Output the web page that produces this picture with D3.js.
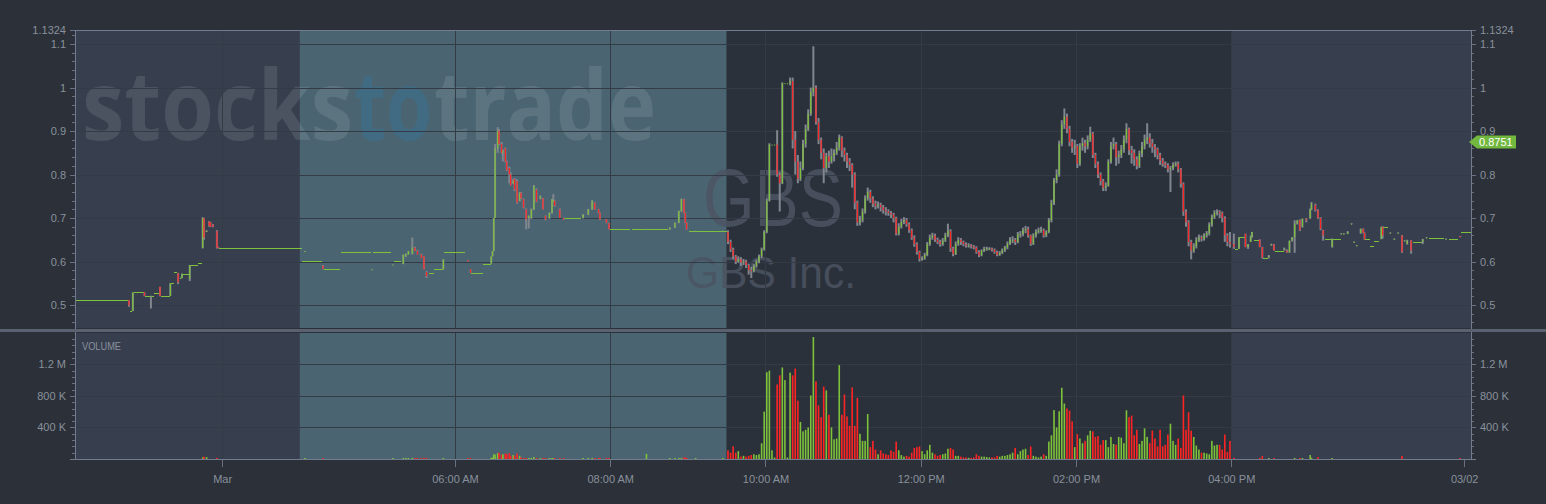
<!DOCTYPE html>
<html><head><meta charset="utf-8">
<script src="https://cdn.jsdelivr.net/npm/d3@7"></script>
<style>
html,body{margin:0;padding:0;background:#2b3039;}
svg{display:block;}
</style></head><body>
<svg id="chart" width="1546" height="504"></svg>
<script>
// ---------- DATA (time = minutes from 04:00 AM on the session timeline) ----------
const tickMinutes = [-60, 120, 240, 360, 480, 600, 720, 900];
const tickLabels = ["Mar", "06:00 AM", "08:00 AM", "10:00 AM", "12:00 PM", "02:00 PM", "04:00 PM", "03/02"];
const priceTicks = [0.5, 0.6, 0.7, 0.8, 0.9, 1.0, 1.1, 1.1324];
const priceTickLabels = ["0.5", "0.6", "0.7", "0.8", "0.9", "1", "1.1", "1.1324"];
const volumeTicks = [400000, 800000, 1200000];
const volumeTickLabels = ["400 K", "800 K", "1.2 M"];
const sessionStart = [-174, 0, 330, 720];
const sessionEnd = [0, 330, 720, 906];
const sessionKind = ["ext", "pre", "reg", "ext"];
const symbol = "GBS";
const companyName = "GBS Inc.";
const watermarkParts = ["stocks", "to", "trade"];
const lastPriceTag = 0.8751;

// previous-day trades
const prevTime = [-132,-129,-120,-115,-108,-100,-94,-92,-91,-85,-75,-74,-72,-70,-69,-67,-64,-63];
const prevOpen = [.511,.486,.529,.521,.542,.521,.573,.562,.562,.560,.631,.700,.670,.692,.690,.685,.670,.633];
const prevHigh = [.511,.529,.529,.521,.542,.550,.574,.563,.572,.592,.702,.700,.672,.693,.691,.686,.672,.634];
const prevLow = [.496,.486,.520,.492,.520,.521,.548,.561,.562,.555,.630,.650,.668,.680,.679,.679,.630,.630];
const prevClose = [.499,.529,.521,.521,.521,.550,.552,.562,.572,.592,.700,.655,.670,.682,.680,.680,.632,.631];
const prevVolumeK = [2,2,2,2,2,2,2,2,2,2,22,30,25,3,3,3,15,2];

// pre-market trades
const preTime = [4,18,56,72,80,82,84,87,89,91,94,96,98,111,130,132,148,149,150,151,153,154,156,157,159,160,162,163,165,166,168,170,171,173,175,177,179,181,183,186,188,190,193,195,196,197,201,204,219,223,226,228,231,232,237,239,268,286,290,293,295,297,298,299,306,327];
const preOpen = [.624,.590,.582,.593,.594,.612,.616,.618,.632,.624,.616,.612,.576,.582,.603,.582,.595,.612,.624,.700,.860,.900,.870,.850,.860,.830,.815,.800,.780,.790,.785,.740,.758,.743,.720,.700,.700,.720,.765,.745,.745,.705,.700,.712,.740,.740,.720,.700,.700,.708,.720,.735,.720,.712,.697,.688,.674,.674,.678,.689,.716,.743,.712,.689,.670,.670];
const preHigh = [.624,.592,.582,.593,.616,.618,.624,.655,.634,.626,.618,.612,.578,.605,.603,.582,.612,.624,.700,.870,.909,.905,.875,.858,.862,.832,.818,.805,.790,.792,.789,.760,.760,.745,.722,.706,.722,.776,.768,.752,.746,.706,.713,.744,.755,.741,.722,.701,.709,.721,.742,.736,.721,.713,.698,.689,.675,.679,.690,.717,.745,.744,.713,.690,.671,.671];
const preLow = [.623,.582,.581,.592,.594,.610,.616,.616,.624,.616,.608,.582,.562,.582,.600,.574,.595,.612,.624,.700,.850,.868,.848,.830,.828,.808,.780,.775,.778,.762,.733,.738,.744,.722,.674,.676,.698,.718,.736,.743,.720,.695,.698,.710,.738,.726,.700,.696,.699,.707,.719,.719,.711,.696,.688,.674,.673,.673,.677,.688,.714,.711,.688,.673,.669,.669];
const preClose = [.624,.583,.582,.593,.616,.618,.624,.632,.624,.616,.608,.582,.566,.605,.600,.574,.612,.624,.700,.860,.900,.870,.850,.855,.830,.810,.800,.775,.785,.765,.735,.758,.745,.724,.697,.705,.720,.774,.738,.750,.720,.697,.712,.743,.740,.728,.700,.697,.708,.720,.739,.720,.712,.697,.689,.674,.675,.678,.689,.716,.743,.712,.689,.674,.670,.670];
const preVolumeK = [8,13,6,8,13,12,12,15,12,12,12,14,13,13,12,13,15,18,60,55,75,80,55,60,70,60,75,40,50,40,70,40,20,13,13,12,13,25,13,12,13,12,12,13,12,12,13,12,13,13,13,12,12,13,12,12,65,12,13,13,14,20,16,13,12,12];

// regular session, 2-minute candles from 09:30
const regStart = 330, regStep = 2;
const regOpen = [.668,.645,.628,.612,.600,.605,.598,.600,.592,.580,
.578,.590,.600,.612,.628,.668,.740,.869,.869,.869,
.800,.780,1.010,1.010,1.010,1.015,.880,.830,.790,.815,
.870,.905,.940,.990,1.000,.920,.880,.850,.815,.842,
.830,.842,.850,.862,.885,.855,.845,.830,.822,.800,
.735,.690,.695,.715,.745,.760,.745,.733,.728,.730,
.725,.718,.715,.712,.708,.700,.664,.680,.691,.695,
.686,.672,.655,.640,.622,.606,.607,.615,.640,.655,
.660,.650,.645,.640,.648,.660,.670,.630,.617,.640,
.650,.645,.640,.637,.637,.635,.632,.622,.614,.625,
.629,.630,.630,.627,.622,.615,.620,.626,.632,.641,
.650,.650,.645,.663,.663,.672,.675,.660,.641,.660,
.668,.672,.672,.660,.668,.695,.735,.787,.800,.871,
.915,.933,.905,.875,.862,.865,.825,.865,.872,.865,
.880,.895,.845,.825,.800,.785,.770,.775,.830,.865,
.870,.840,.845,.858,.880,.905,.856,.850,.835,.820,
.848,.865,.880,.885,.872,.864,.858,.845,.832,.825,
.822,.812,.815,.822,.825,.812,.779,.715,.690,.645,
.625,.635,.650,.655,.652,.660,.665,.685,.702,.712,
.714,.712,.700,.660,.645];
const regHigh = [.672,.650,.632,.615,.612,.610,.606,.604,.595,.588,
.594,.604,.616,.632,.672,.745,.872,.869,.869,.902,
.805,1.012,1.010,1.010,1.023,1.023,.900,.845,.830,.880,
.915,.950,1.000,1.095,1.005,.930,.885,.860,.850,.855,
.860,.858,.875,.892,.888,.862,.850,.838,.826,.805,
.740,.705,.722,.752,.770,.765,.750,.740,.738,.735,
.730,.725,.720,.716,.712,.703,.688,.698,.702,.700,
.690,.676,.660,.644,.625,.612,.620,.645,.662,.666,
.664,.655,.650,.654,.666,.687,.674,.634,.646,.656,
.654,.648,.644,.642,.640,.638,.635,.626,.628,.634,
.634,.633,.632,.630,.625,.624,.630,.636,.646,.656,
.658,.654,.668,.670,.678,.682,.680,.662,.665,.674,
.678,.680,.676,.672,.700,.742,.792,.812,.878,.925,
.952,.940,.912,.882,.880,.870,.872,.885,.880,.890,
.910,.898,.850,.830,.805,.790,.782,.835,.875,.885,
.875,.855,.868,.890,.918,.908,.866,.858,.842,.855,
.875,.892,.918,.895,.882,.870,.862,.850,.838,.830,
.826,.820,.828,.830,.830,.815,.782,.720,.695,.650,
.642,.656,.662,.660,.665,.670,.690,.708,.718,.720,
.718,.715,.704,.665,.668];
const regLow = [.640,.622,.605,.594,.597,.590,.592,.585,.570,.562,
.575,.586,.596,.608,.625,.665,.738,.869,.869,.795,
.715,.778,1.010,1.010,1.005,.860,.800,.780,.785,.810,
.862,.900,.935,.980,.915,.870,.835,.780,.805,.815,
.825,.830,.845,.855,.840,.830,.815,.808,.770,.720,
.682,.683,.690,.710,.740,.735,.725,.720,.722,.715,
.710,.706,.705,.700,.690,.660,.660,.676,.686,.680,
.666,.650,.634,.616,.600,.602,.604,.612,.636,.650,
.645,.640,.634,.636,.645,.656,.622,.612,.615,.636,
.638,.635,.632,.632,.630,.628,.618,.610,.612,.622,
.625,.626,.623,.618,.612,.613,.617,.622,.628,.638,
.642,.638,.642,.655,.658,.665,.655,.636,.638,.655,
.664,.666,.655,.656,.665,.690,.730,.780,.795,.865,
.905,.895,.865,.850,.845,.815,.820,.855,.850,.858,
.875,.838,.815,.792,.775,.762,.762,.772,.825,.858,
.820,.825,.838,.850,.872,.845,.825,.820,.812,.815,
.840,.858,.870,.862,.850,.840,.835,.822,.818,.815,
.805,.760,.810,.818,.805,.770,.705,.680,.635,.605,
.620,.630,.645,.646,.648,.655,.660,.680,.698,.706,
.700,.690,.645,.635,.632];
const regClose = [.645,.628,.612,.600,.605,.598,.600,.592,.580,.578,
.590,.600,.612,.628,.668,.740,.869,.869,.869,.800,
.780,1.010,1.010,1.010,1.015,.880,.830,.790,.815,.870,
.905,.940,.990,1.000,.920,.880,.850,.815,.842,.830,
.842,.850,.862,.885,.855,.845,.830,.822,.800,.735,
.690,.695,.715,.745,.760,.745,.733,.728,.730,.725,
.718,.715,.712,.708,.700,.664,.680,.691,.695,.686,
.672,.655,.640,.622,.606,.607,.615,.640,.655,.660,
.650,.645,.640,.648,.660,.670,.630,.617,.640,.650,
.645,.640,.637,.637,.635,.632,.622,.614,.625,.629,
.630,.630,.627,.622,.615,.620,.626,.632,.641,.650,
.650,.645,.663,.663,.672,.675,.660,.641,.660,.668,
.672,.672,.660,.668,.695,.735,.787,.800,.871,.915,
.933,.905,.875,.862,.865,.825,.865,.872,.865,.880,
.895,.845,.825,.800,.785,.770,.775,.830,.865,.870,
.840,.845,.858,.880,.905,.856,.850,.835,.820,.848,
.865,.880,.885,.872,.864,.858,.845,.832,.825,.822,
.812,.815,.822,.825,.812,.779,.715,.690,.645,.625,
.635,.650,.655,.652,.660,.665,.685,.702,.712,.714,
.712,.700,.660,.645,.640];
const regVolumeK = [110,80,160,80,100,30,40,30,40,50,
60,50,60,200,600,1100,1120,110,20,945,
1060,1160,1000,20,1095,1060,1146,740,470,350,
370,400,805,1546,984,680,530,916,870,560,
400,250,260,1190,560,818,540,420,907,420,
775,320,230,230,570,150,230,120,60,110,
70,60,50,110,90,220,110,50,30,40,
30,80,140,150,160,100,60,110,180,80,
60,40,50,60,70,130,140,120,40,40,
30,20,20,15,15,20,60,40,30,30,
25,20,20,20,40,30,40,40,50,60,
80,140,60,100,120,130,50,160,40,30,
20,30,60,40,220,300,620,400,605,903,
703,640,613,477,150,315,260,200,230,300,
358,350,280,290,180,240,240,150,280,190,
180,280,270,200,618,530,550,300,370,190,
230,388,280,200,360,260,160,370,160,180,
310,447,230,180,260,140,805,370,592,360,
280,170,120,80,80,70,60,230,170,180,
180,120,310,90,230];

// after-hours trades
const postTime = [722,726,731,733,735,736,742,744,749,751,753,761,763,765,767,769,771,773,775,778,781,782,785,787,789,791,798,805,807,810,813,815,817,820,822,823,836,837,843,846,849,852,854,856,859,868,871,886,897];
const postOpen = [.640,.629,.664,.633,.645,.656,.650,.633,.610,.639,.639,.629,.625,.621,.648,.656,.687,.695,.680,.698,.700,.720,.730,.718,.700,.672,.634,.664,.664,.664,.687,.645,.637,.665,.675,.666,.652,.679,.666,.652,.666,.660,.648,.640,.648,.645,.655,.652,.658];
const postHigh = [.664,.656,.664,.640,.660,.668,.651,.634,.615,.641,.640,.632,.628,.648,.656,.695,.695,.697,.699,.700,.722,.737,.733,.720,.702,.673,.653,.665,.665,.670,.688,.646,.638,.676,.676,.667,.680,.681,.667,.653,.667,.661,.649,.650,.649,.652,.656,.653,.659];
const postLow = [.629,.629,.633,.629,.645,.655,.633,.607,.607,.637,.625,.625,.620,.620,.646,.620,.685,.670,.678,.690,.698,.718,.715,.698,.672,.648,.632,.663,.663,.663,.686,.644,.636,.664,.665,.650,.651,.653,.665,.651,.665,.620,.647,.639,.618,.640,.654,.651,.656];
const postClose = [.633,.656,.633,.640,.656,.668,.633,.610,.613,.639,.625,.629,.621,.648,.656,.687,.695,.672,.698,.695,.720,.733,.718,.700,.675,.660,.652,.664,.664,.668,.687,.645,.637,.675,.666,.651,.679,.660,.666,.652,.666,.622,.648,.648,.625,.651,.655,.652,.657];
const postVolumeK = [15,2,2,2,2,2,12,38,12,2,12,2,2,2,2,13,2,12,12,2,50,15,2,25,2,2,12,2,2,2,2,2,2,2,2,2,2,2,2,2,2,38,2,2,2,2,2,2,12];

// unchanged-price stretches (no trades), drawn as flat lines
const flatStart = [-174,-131,-128,-119,-112,-107,-99,-97,-90,-84,-78,-62,2,19,32,57,73,100,104,112,133,142,205,240,257,301,723,727,738,745,754,793,799,824,828,831,838,861,873,889,898];
const flatEnd = [-133,-130,-121,-113,-109,-101,-98,-95,-86,-79,-76,1,17,31,55,70,78,103,110,127,141,147,217,255,284,330,725,730,741,748,760,797,804,827,830,834,841,867,884,895,905];
const flatPrice = [.511,.486,.529,.521,.528,.521,.550,.575,.572,.592,.596,.631,.602,.582,.622,.622,.602,.574,.582,.622,.574,.595,.700,.674,.674,.670,.629,.656,.650,.607,.625,.652,.652,.651,.635,.647,.679,.645,.655,.652,.667];

// ---------- STYLE / LAYOUT ----------
const FONT = '"Liberation Sans", Arial, sans-serif';
const C = {page:'#2b3039', ext:'#373f4f', pre:'#4a6571', reg:'#2b313b', grid:'#333b47',
  axis:'#687184', border:'#737c8f', sep:'#5a6272', text:'#8a909b', up:'#7dc23a', down:'#ff2424', wick:'#80858e', tag:'#72b83f'};
const P = {left:75, right:1471, priceTop:30, priceBottom:328, volTop:333, volBottom:459};

const svg = d3.select('#chart');
svg.append('rect').attr('width',1546).attr('height',504).attr('fill',C.page);

const x = d3.scaleLinear().domain([-173.7, 905.3]).range([P.left, P.right]);
const y = d3.scaleLinear().domain([0.4471, 1.1324]).range([P.priceBottom, P.priceTop]);
const yv = d3.scaleLinear().domain([0, 1597000]).range([P.volBottom, P.volTop]);

// assemble candles
const candles = [];
function addSet(times, o, h, l, c, vK) {
  times.forEach((t, i) => candles.push({t, o:o[i], h:h[i], l:l[i], c:c[i], v:vK[i]*1000}));
}
addSet(prevTime, prevOpen, prevHigh, prevLow, prevClose, prevVolumeK);
addSet(preTime, preOpen, preHigh, preLow, preClose, preVolumeK);
addSet(regClose.map((_, i) => regStart + i*regStep + regStep/2), regOpen, regHigh, regLow, regClose, regVolumeK);
addSet(postTime, postOpen, postHigh, postLow, postClose, postVolumeK);
const flats = flatStart.map((s, i) => ({s, e:flatEnd[i], p:flatPrice[i]}));

const defs = svg.append('defs');
defs.append('clipPath').attr('id','clipPrice').append('rect')
  .attr('x',P.left).attr('y',P.priceTop).attr('width',P.right-P.left).attr('height',P.priceBottom-P.priceTop);
defs.append('clipPath').attr('id','clipVol').append('rect')
  .attr('x',P.left).attr('y',P.volTop).attr('width',P.right-P.left).attr('height',P.volBottom-P.volTop);

// session backgrounds
const sessions = sessionStart.map((s, i) => ({s:Math.max(s, x.domain()[0]), e:Math.min(sessionEnd[i], x.domain()[1]), k:sessionKind[i]}));
[[P.priceTop, P.priceBottom], [P.volTop, P.volBottom]].forEach(([t, b]) => {
  svg.append('g').selectAll('rect').data(sessions).join('rect')
    .attr('x', d => x(d.s)).attr('width', d => x(d.e) - x(d.s))
    .attr('y', t).attr('height', b - t).attr('fill', d => C[d.k]);
});

// watermarks (each word part horizontally scaled to its slot, no overlap)
const wm = svg.append('g').attr('clip-path','url(#clipPrice)');
const wmFont = '"Open Sans", "DejaVu Sans", sans-serif';
const wmSlots = [[82, 271], [354, 78], [434, 222]];
watermarkParts.forEach((part, i) => {
  const g = wm.append('g');
  const t = g.append('text').attr('x', 0).attr('y', 0).attr('font-family', wmFont).attr('font-weight', 700)
    .attr('font-size', 96).attr('fill', i === 1 ? '#2f78a8' : '#ffffff')
    .attr('fill-opacity', i === 1 ? 0.32 : 0.1).text(part);
  const natural = t.node().getComputedTextLength() || wmSlots[i][1];
  g.attr('transform', `translate(${wmSlots[i][0]},140) scale(${(wmSlots[i][1] / natural).toFixed(4)},1)`);
});
wm.append('text').attr('x', 773).attr('y', 226).attr('text-anchor','middle').attr('font-family', FONT)
  .attr('font-size', 81).attr('textLength', 140).attr('lengthAdjust','spacingAndGlyphs')
  .attr('fill', '#4c5463').attr('fill-opacity', 0.85).text(symbol);
wm.append('text').attr('x', 771).attr('y', 288).attr('text-anchor','middle').attr('font-family', FONT)
  .attr('font-size', 45).attr('textLength', 170).attr('lengthAdjust','spacingAndGlyphs')
  .attr('fill', '#4c5463').attr('fill-opacity', 0.85).text(companyName);

// grid
const grid = svg.append('g').attr('stroke', C.grid).attr('stroke-width', 1).attr('shape-rendering','crispEdges');
priceTicks.filter(v => v <= 1.1).forEach(v => grid.append('line').attr('x1',P.left).attr('x2',P.right).attr('y1',Math.round(y(v))+0.5).attr('y2',Math.round(y(v))+0.5));
volumeTicks.forEach(v => grid.append('line').attr('x1',P.left).attr('x2',P.right).attr('y1',Math.round(yv(v))+0.5).attr('y2',Math.round(yv(v))+0.5));
tickMinutes.slice(0, -1).forEach(m => {
  const xx = Math.round(x(m)) + 0.5;
  grid.append('line').attr('x1',xx).attr('x2',xx).attr('y1',P.priceTop).attr('y2',P.priceBottom);
  grid.append('line').attr('x1',xx).attr('x2',xx).attr('y1',P.volTop).attr('y2',P.volBottom);
});

// price marks
const pg = svg.append('g').attr('clip-path','url(#clipPrice)');
pg.append('g').selectAll('line').data(flats).join('line')
  .attr('x1', d => x(d.s) - 0.6).attr('x2', d => x(d.e) + 0.6)
  .attr('y1', d => Math.round(y(d.p)) + 0.5).attr('y2', d => Math.round(y(d.p)) + 0.5)
  .attr('stroke', C.up).attr('stroke-width', 1).attr('shape-rendering','crispEdges');
const bodyW = 1.2, wickW = 2, volW = 1.6;
pg.append('g').selectAll('line').data(candles.filter(d => d.h > d.l)).join('line')
  .attr('x1', d => x(d.t)).attr('x2', d => x(d.t))
  .attr('y1', d => y(d.h)).attr('y2', d => y(d.l))
  .attr('stroke', C.wick).attr('stroke-width', wickW);
pg.append('g').selectAll('rect').data(candles).join('rect')
  .attr('x', d => x(d.t) - bodyW/2).attr('width', bodyW)
  .attr('y', d => Math.min(y(d.o), y(d.c)))
  .attr('height', d => Math.max(1, Math.abs(y(d.o) - y(d.c))))
  .attr('fill', d => d.c >= d.o ? C.up : C.down);

// volume bars
const vg = svg.append('g').attr('clip-path','url(#clipVol)');
vg.selectAll('rect').data(candles.filter(d => yv(0) - yv(d.v) >= 0.5)).join('rect')
  .attr('x', d => x(d.t) - volW/2).attr('width', volW)
  .attr('y', d => Math.min(yv(d.v), yv(0) - 1))
  .attr('height', d => Math.max(1, yv(0) - yv(d.v)))
  .attr('fill', d => d.c >= d.o ? C.up : C.down);

svg.append('text').attr('x', 82).attr('y', 350).attr('font-family', FONT).attr('font-size', 10.5)
  .attr('textLength', 39).attr('lengthAdjust','spacingAndGlyphs').attr('fill', C.text).text('VOLUME');

// axes
function styleAxis(g) {
  g.select('.domain').remove();
  g.selectAll('line').attr('stroke', C.axis).attr('shape-rendering','crispEdges');
  g.selectAll('text').attr('fill', C.text).attr('font-size', 11).attr('font-family', FONT);
}
const priceMinor = d3.range(0.46, 1.13, 0.02);
const volMinor = d3.range(80000, 1597000, 80000);
[[d3.axisLeft, P.left], [d3.axisRight, P.right]].forEach(([ax, xx]) => {
  svg.append('g').attr('transform', `translate(${xx},0)`)
    .call(ax(y).tickValues(priceMinor).tickSize(3).tickFormat('')).call(styleAxis);
  svg.append('g').attr('transform', `translate(${xx},0)`)
    .call(ax(y).tickValues(priceTicks).tickSize(5).tickPadding(4).tickFormat((d, i) => priceTickLabels[i])).call(styleAxis);
  svg.append('g').attr('transform', `translate(${xx},0)`)
    .call(ax(yv).tickValues(volMinor).tickSize(3).tickFormat('')).call(styleAxis);
  svg.append('g').attr('transform', `translate(${xx},0)`)
    .call(ax(yv).tickValues(volumeTicks).tickSize(5).tickPadding(4).tickFormat((d, i) => volumeTickLabels[i])).call(styleAxis);
});
svg.append('g').attr('transform', `translate(0,${P.volBottom})`)
  .call(d3.axisBottom(x).tickValues(tickMinutes).tickSize(8).tickPadding(8).tickFormat((d, i) => tickLabels[i]))
  .call(styleAxis);

// frame
const fr = svg.append('g').attr('stroke', C.border).attr('stroke-width', 1).attr('shape-rendering','crispEdges');
fr.append('line').attr('x1', P.left).attr('x2', P.right).attr('y1', P.priceTop + 0.5).attr('y2', P.priceTop + 0.5);
fr.append('line').attr('x1', P.left + 0.5).attr('x2', P.left + 0.5).attr('y1', P.priceTop).attr('y2', P.volBottom);
fr.append('line').attr('x1', P.right + 0.5).attr('x2', P.right + 0.5).attr('y1', P.priceTop).attr('y2', P.volBottom);
fr.append('line').attr('x1', P.left - 5).attr('x2', P.right + 5).attr('y1', P.volBottom + 0.5).attr('y2', P.volBottom + 0.5);
svg.append('rect').attr('x', 0).attr('y', 329).attr('width', 1546).attr('height', 3).attr('fill', C.sep);

// last price tag
const ty = y(lastPriceTag);
svg.append('path')
  .attr('d', `M${P.right - 2},${ty} L${P.right + 6},${ty - 6.5} H${P.right + 45} V${ty + 6.5} H${P.right + 6} Z`)
  .attr('fill', C.tag);
svg.append('text').attr('x', P.right + 8).attr('y', ty).attr('dy', '0.36em').attr('font-family', FONT)
  .attr('font-size', 11).attr('fill', '#ffffff').text(d3.format('.4f')(lastPriceTag));
</script>
</body></html>
